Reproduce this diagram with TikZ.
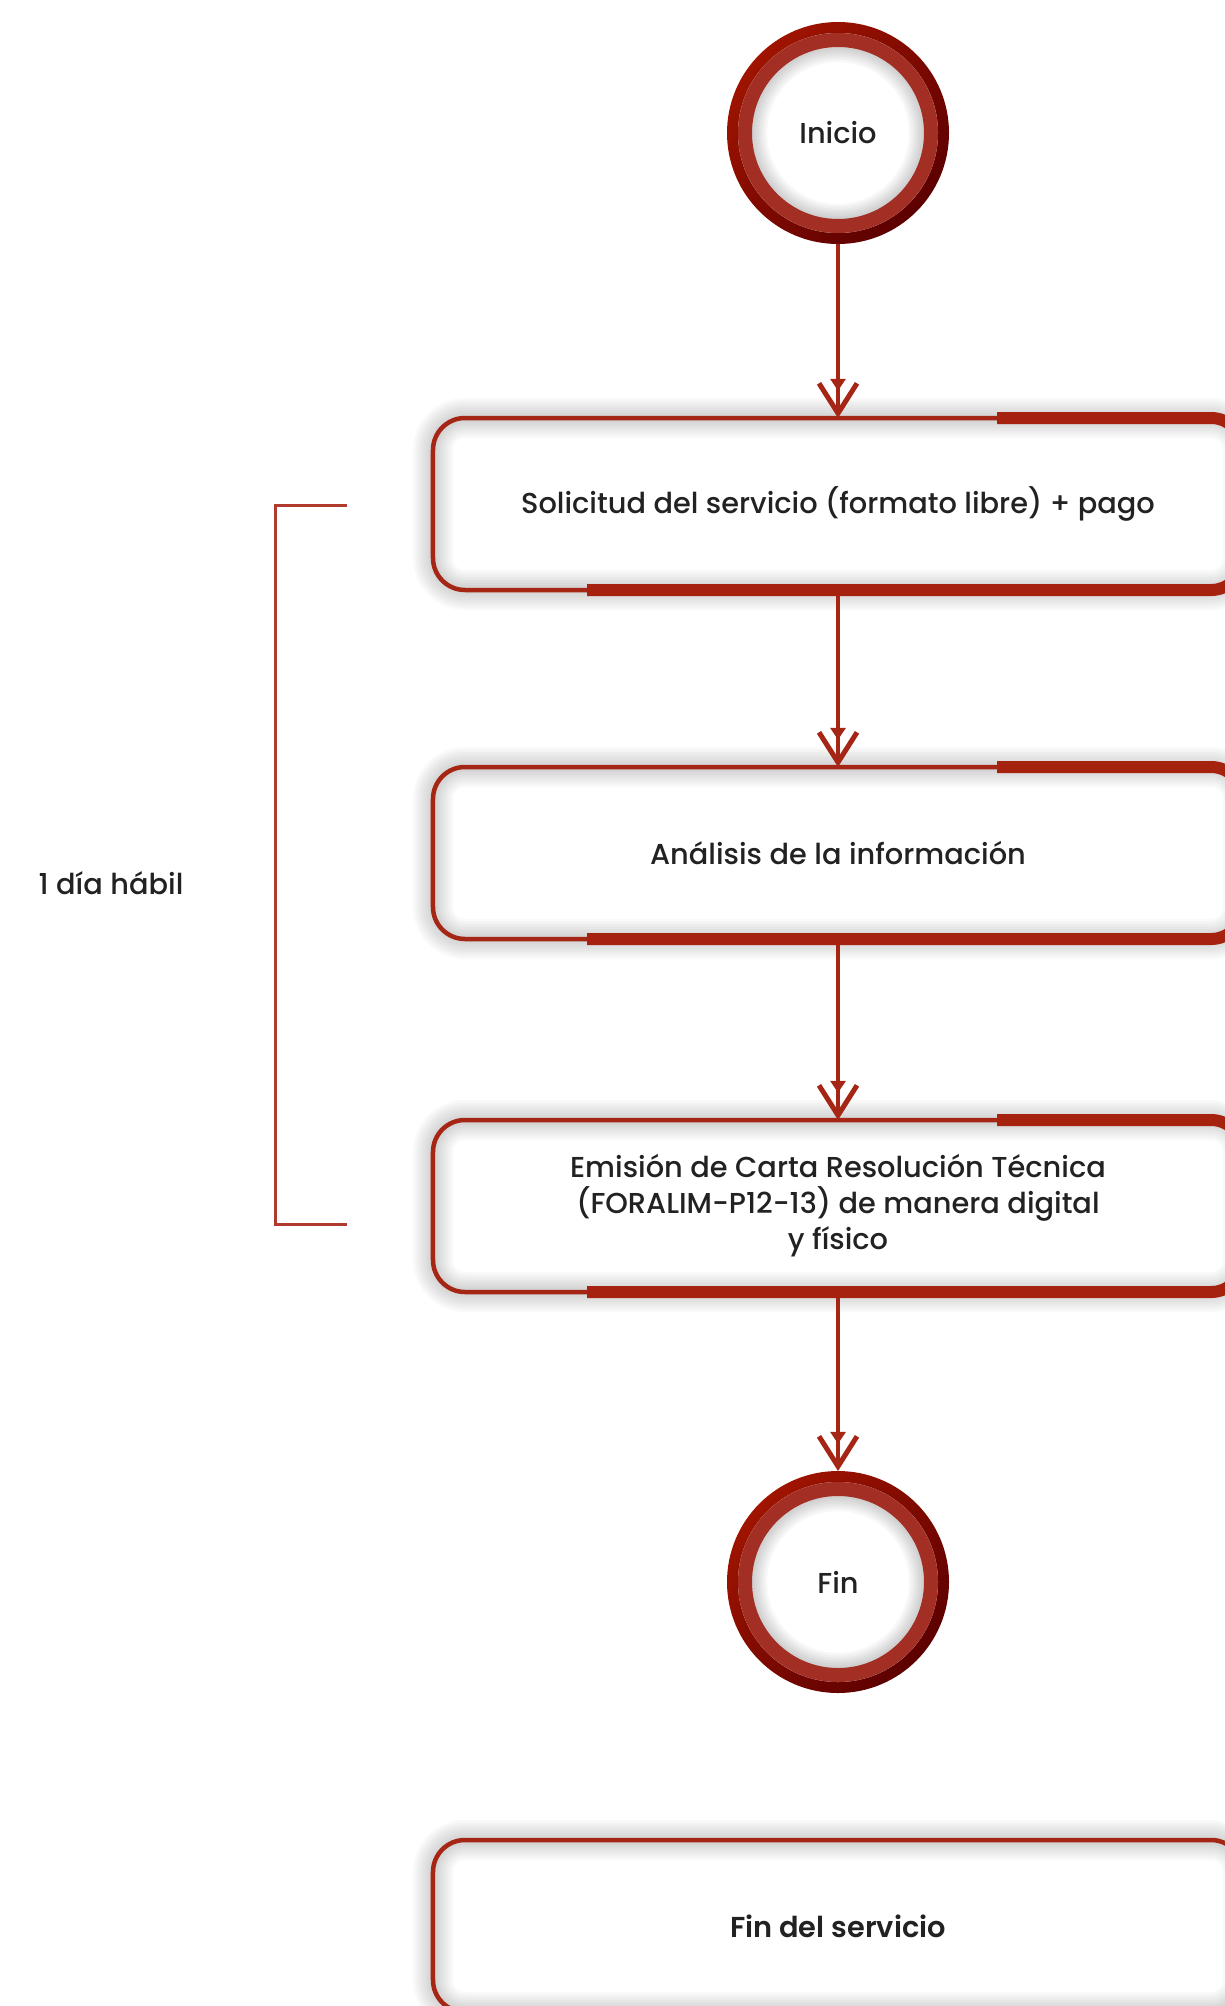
\documentclass[tikz,border=0pt]{standalone}
\usepackage{fontspec}
\setmainfont{Poppins}[UprightFont=*-Medium, BoldFont=*-SemiBold]
\usetikzlibrary{arrows.meta,backgrounds}

\definecolor{linered}{RGB}{166,38,22}
\definecolor{bandred}{RGB}{165,34,14}
\definecolor{ringmid}{RGB}{162,46,36}
\definecolor{ringhi}{RGB}{160,20,0}
\definecolor{ringlo}{RGB}{92,0,0}
\definecolor{bracketred}{RGB}{176,58,46}
\definecolor{textgray}{RGB}{34,34,34}

\begin{document}
\begin{tikzpicture}
[x=0.2mm, y=-0.2mm,
  every node/.style={text=textgray, font=\fontsize{16.4}{20.5}\selectfont},
  endpoint/.style={circle, minimum size=44.4mm, inner sep=0pt, outer sep=0pt,
    top color=ringhi, bottom color=ringlo, shading angle=45,
    path picture={
      \fill[white] (path picture bounding box.center) circle (20mm);
      \foreach \w in {1,...,6}
        \draw[black, opacity=.03, line width=\w mm] (path picture bounding box.center) circle (17.2mm);
      \draw[ringmid, line width=2.8mm] (path picture bounding box.center) circle (18.6mm);}},
  stepbox/.style={rectangle, rounded corners=6.4mm, minimum width=162mm, minimum height=34.4mm,
    inner sep=0pt, outer sep=0pt, fill=white, draw=linered, line width=0.9mm, align=center,
    path picture={
      \foreach \w in {1,...,8}
        \draw[black, opacity=.025, line width=\w mm, rounded corners=6.4mm]
          (path picture bounding box.north west) rectangle (path picture bounding box.south east);}},
  band/.style={draw=bandred, line width=2.4mm, rounded corners=6.4mm},
  flow/.style={draw=linered, line width=0.9mm,
    -{Triangle[length=2.4mm, width=3mm, sep=-2mm] Straight Barb[length=6mm, width=7.6mm, line width=1mm]}},
  bracketline/.style={draw=bracketred, line width=0.6mm}]
\useasboundingbox (0,0) rectangle (1224,2006);
%% nodes
\node[endpoint] (inicio) at (838,133) {Inicio};
\node[stepbox] (solicitud) at (838,504) {Solicitud del servicio (formato libre) + pago};
\node[stepbox] (analisis) at (838,853) {Análisis de la información};
\node[stepbox] (emision) at (838,1206) {Emisión de Carta Resolución Técnica\\(FORALIM-P12-13) de manera digital\\y físico};
\node[endpoint] (fin) at (838,1582) {Fin};
\node[stepbox] (finserv) at (838,1926) {\bfseries Fin del servicio};
\node (plazo) at (111,883) {1 día hábil};
%% soft glow round the boxes
\begin{scope}[on background layer]
\foreach \n in {solicitud, analisis, emision, finserv}
  \foreach \w in {1,...,8}
    \draw[black, opacity=.025, line width=\w mm, rounded corners=6.4mm]
      (\n.north west) rectangle (\n.south east);
\end{scope}
%% connectors
\foreach \a/\b in {inicio/solicitud, solicitud/analisis, analisis/emision, emision/fin}
  \draw[flow] (\a) -- (\b);
%% thick bands
\foreach \n in {solicitud, analisis, emision} {
  \draw[band] ([xshift=112.8mm]\n.north west) -| (\n.east);
  \draw[band] ([xshift=30.8mm]\n.south west) -| (\n.east);
}
%% bracket
\coordinate (brtop) at (347,505);
\coordinate (brbot) at (347,1224);
\draw[bracketline] (brtop) -- ++(-72,0) |- (brbot);
\end{tikzpicture}
\end{document}
